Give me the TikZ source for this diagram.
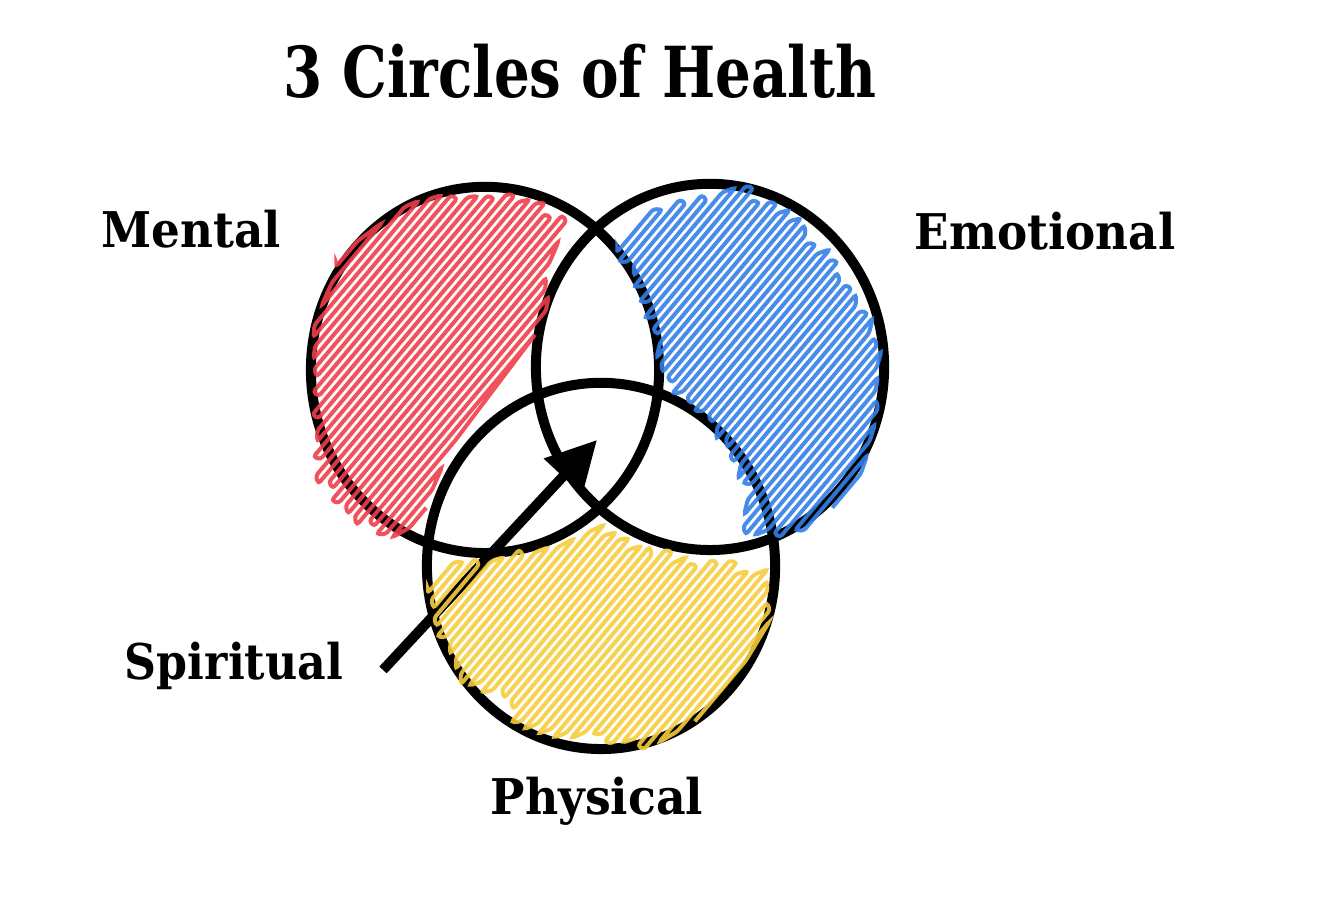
\documentclass[tikz,border=0pt]{standalone}
\usepackage{fontspec}
\usepackage{graphicx}
\setmainfont{DejaVu Serif}
\usetikzlibrary{shapes.geometric, arrows.meta, intersections, calc}

\definecolor{inkred}{RGB}{240,62,74}
\definecolor{inkblue}{RGB}{52,128,232}
\definecolor{inkyellow}{RGB}{246,205,62}

% zigzag scribble inside a named zone: zone, centre x, centre y, first offset, last index, ink
\newcommand{\scribble}[6]{%
  \foreach \idx in {0,...,#5} {
    \pgfmathsetmacro\off{#4+7*\idx}
    \pgfmathtruncatemacro\prev{max(\idx-1,0)}
    \path[name path=cut] ({#2+\off*0.766-400*0.643},{#3+\off*0.643+400*0.766}) -- ++({800*0.643},{-800*0.766});
    \path[name intersections={of=#1 and cut, sort by=cut, total=\ntot}] \pgfextra{\xdef\hits{\ntot}};
    \pgfmathsetmacro\ja{14*rnd-6}
    \pgfmathsetmacro\jb{14*rnd-6}
    \ifnum\hits<2
      \coordinate (#1-a-\idx) at (#1-b-\prev);
      \coordinate (#1-b-\idx) at (#1-b-\prev);
    \else\ifodd\idx
      \coordinate (#1-a-\idx) at ($(intersection-2)+({\jb*0.643},{-\jb*0.766})$);
      \coordinate (#1-b-\idx) at ($(intersection-1)+({-\ja*0.643},{\ja*0.766})$);
    \else
      \coordinate (#1-a-\idx) at ($(intersection-1)+({-\ja*0.643},{\ja*0.766})$);
      \coordinate (#1-b-\idx) at ($(intersection-2)+({\jb*0.643},{-\jb*0.766})$);
    \fi\fi
  }
  \draw[#6] (#1-a-0) \foreach \idx in {0,...,#5} { -- (#1-a-\idx) -- (#1-b-\idx) };
}

\begin{document}
\begin{tikzpicture}[
		x=0.002cm, y=-0.002cm,
		ring/.style={ellipse, draw=black, line width=0.02cm, inner sep=0pt, minimum width=0.696cm, minimum height=0.732cm},
		pointer/.style={draw, line width=0.02cm, -{Triangle[length=0.1cm, width=0.1cm]}},
		headline/.style={anchor=base, inner sep=0pt, font=\bfseries\fontsize{4}{4.4}\selectfont},
		circname/.style={anchor=base, inner sep=0pt, font=\bfseries\fontsize{2.8}{3.2}\selectfont},
		redink/.style={draw=inkred, line width=0.008cm, opacity=0.9, rounded corners=0.006cm},
		blueink/.style={draw=inkblue, line width=0.008cm, opacity=0.9, rounded corners=0.006cm},
		yellowink/.style={draw=inkyellow, line width=0.008cm, opacity=0.9, rounded corners=0.006cm}
	]
	\pgfmathsetseed{7}
	\useasboundingbox (0,0) rectangle (1325,902);

	% Title
	\node [headline] (title) at (580,98) {\scalebox{0.8}[1]{3 Circles of Health}};

	% The three circles
	\node [ring] (mental) at (485,370) {};
	\node [ring] (emotional) at (710,367) {};
	\node [ring] (physical) at (601,566) {};

	% Names
	\node [circname] (mentalname) at (191,248) {\scalebox{0.92}[1]{Mental}};
	\node [circname] (emotionalname) at (1045,250) {\scalebox{0.92}[1]{Emotional}};
	\node [circname] (spiritualname) at (234,680) {\scalebox{0.9}[1]{Spiritual}};
	\node [circname] (physicalname) at (597,815) {\scalebox{0.93}[1]{Physical}};

	% Spiritual arrow into the middle
	\coordinate (sptail) at (383,670);
	\coordinate (sphead) at (597,440);
	\path [pointer] (sptail) -- (sphead);

	% Scribbled zones
	\path [name path=redzone] (313,363) -- (317,313) -- (347,247) -- (397,213) -- (440,197) -- (487,193) -- (540,207) -- (563,223) -- (553,253) -- (547,287) -- (537,337) -- (527,370) -- (513,387) -- (487,403) -- (467,420) -- (447,453) -- (437,477) -- (427,503) -- (413,530) -- (397,535) -- (357,520) -- (320,475) -- (313,363);
	\scribble{redzone}{440}{370}{-146}{32}{redink}

	\path [name path=bluezone] (613,237) -- (647,215) -- (690,200) -- (740,190) -- (790,215) -- (813,240) -- (857,297) -- (878,343) -- (876,400) -- (873,437) -- (857,487) -- (800,535) -- (747,533) -- (748,487) -- (723,437) -- (690,405) -- (667,385) -- (653,330) -- (640,290) -- (613,237);
	\scribble{bluezone}{750}{360}{-171}{47}{blueink}

	\path [name path=yellowzone] (420,573) -- (483,560) -- (550,550) -- (600,530) -- (633,547) -- (683,563) -- (733,567) -- (770,577) -- (767,627) -- (753,643) -- (733,693) -- (700,720) -- (650,745) -- (600,737) -- (520,727) -- (500,693) -- (460,680) -- (440,627) -- (427,593) -- (420,573);
	\scribble{yellowzone}{600}{640}{-162}{41}{yellowink}

\end{tikzpicture}
\end{document}
